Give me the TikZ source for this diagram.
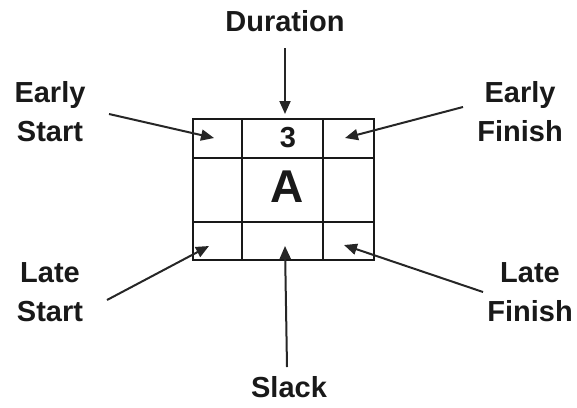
\documentclass[tikz,border=0pt]{standalone}
\usepackage{fontspec}
\setmainfont{Liberation Sans}
\usetikzlibrary{arrows.meta}
\begin{document}
\begin{tikzpicture}[x=1pt,y=-1pt,
  lbl/.style={font=\bfseries\fontsize{29}{39}\selectfont, align=center, inner sep=0pt, text=black!90},
  cell/.style={draw=black!90, line width=1.8pt, rectangle, inner sep=0pt},
  arr/.style={draw=black!85, line width=2pt, -{Triangle[length=13pt,width=11pt]}}]
\useasboundingbox (0,0) rectangle (577,407);
% grid cells
\node[cell, minimum width=49pt, minimum height=39pt] (c11) at (217.5,138.5) {};
\node[cell, minimum width=81pt, minimum height=39pt] (c12) at (282.5,138.5) {};
\node[cell, minimum width=51pt, minimum height=39pt] (c13) at (348.5,138.5) {};
\node[cell, minimum width=49pt, minimum height=64pt] (c21) at (217.5,190) {};
\node[cell, minimum width=81pt, minimum height=64pt] (c22) at (282.5,190) {};
\node[cell, minimum width=51pt, minimum height=64pt] (c23) at (348.5,190) {};
\node[cell, minimum width=49pt, minimum height=38pt] (c31) at (217.5,241) {};
\node[cell, minimum width=81pt, minimum height=38pt] (c32) at (282.5,241) {};
\node[cell, minimum width=51pt, minimum height=38pt] (c33) at (348.5,241) {};
% cell texts
\node[lbl] (dval) at (288,138) {3};
\node[font=\bfseries\fontsize{46}{50}\selectfont, inner sep=0pt, text=black!90] (act) at (287,187) {A};
% labels
\node[lbl] (dur) at (285,21) {Duration};
\node[lbl] (es) at (50,112) {Early\\Start};
\node[lbl] (ef) at (520,112) {Early\\Finish};
\node[lbl] (ls) at (50,292) {Late\\Start};
\node[lbl] (lf) at (530,292) {Late\\Finish};
\node[lbl] (sl) at (289,387) {Slack};
% arrow ends
\coordinate (durT) at (285,48);   \coordinate (durH) at (285,114);
\coordinate (esT) at (109,114);   \coordinate (esH) at (214,138);
\coordinate (efT) at (463,107);   \coordinate (efH) at (345,138);
\coordinate (lsT) at (107,300);   \coordinate (lsH) at (209,246);
\coordinate (slT) at (287,367);   \coordinate (slH) at (285,246);
\coordinate (lfT) at (483,292);   \coordinate (lfH) at (344,245);
\draw[arr] (durT) -- (durH);
\draw[arr] (esT) -- (esH);
\draw[arr] (efT) -- (efH);
\draw[arr] (lsT) -- (lsH);
\draw[arr] (slT) -- (slH);
\draw[arr] (lfT) -- (lfH);
\end{tikzpicture}
\end{document}
